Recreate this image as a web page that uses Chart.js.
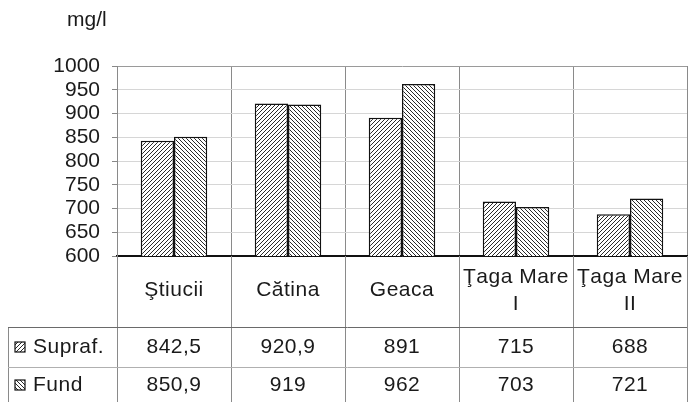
<!DOCTYPE html>
<html>
<head>
<meta charset="utf-8">
<script src="https://cdn.jsdelivr.net/npm/chart.js@4.4.1/dist/chart.umd.min.js"></script>
<style>
  html, body { margin: 0; padding: 0; background: #fff; }
  #wrap { width: 688px; height: 402px; }
</style>
</head>
<body>
<div id="wrap"><canvas id="c" width="688" height="402"></canvas></div>
<script>
// Sampling sites and dissolved-solids values (mg/l)
const categories = ['Ştiucii', 'Cătina', 'Geaca', ['Ţaga Mare', 'I'], ['Ţaga Mare', 'II']];
const suprafValues = [842.5, 920.9, 891, 715, 688];
const fundValues = [850.9, 919, 962, 703, 721];
const suprafLabels = ['842,5', '920,9', '891', '715', '688'];
const fundLabels = ['850,9', '919', '962', '703', '721'];
const seriesNames = ['Supraf.', 'Fund'];
const yUnit = 'mg/l';

const FONT = 'Liberation Sans, Arial, sans-serif';
const FSIZE = 21;
const TEXT = '#1a1a1a';

// Diagonal hatch fill; dir = 1 for "/" and -1 for "\"
function hatch(dir) {
  const s = 4;
  const c = document.createElement('canvas');
  c.width = s; c.height = s;
  const g = c.getContext('2d');
  g.fillStyle = '#fff';
  g.fillRect(0, 0, s, s);
  g.strokeStyle = '#2a2a2a';
  g.lineWidth = 1.0;
  g.beginPath();
  for (let k = -1; k <= 1; k++) {
    if (dir > 0) {
      g.moveTo(k * s - 1, s + 1); g.lineTo(k * s + s + 1, -1);
    } else {
      g.moveTo(k * s - 1, -1); g.lineTo(k * s + s + 1, s + 1);
    }
  }
  g.stroke();
  return g.createPattern(c, 'repeat');
}

const ctx0 = document.getElementById('c').getContext('2d');
const patSupraf = hatch(1);
const patFund = hatch(-1);

// Category cells and data table drawn under the plot
const tablePlugin = {
  id: 'dataTable',
  afterDraw(chart) {
    const ctx = chart.ctx;
    const area = chart.chartArea;
    const n = categories.length;
    const w = (area.right - area.left) / n;
    const xs = chart.scales.x;
    const rowTop = 327, row2 = 367, bottom = 402, tableLeft = 8;

    ctx.save();
    // unit label
    ctx.font = FSIZE + 'px ' + FONT;
    ctx.fillStyle = TEXT;
    ctx.textAlign = 'left';
    ctx.textBaseline = 'alphabetic';
    ctx.fillText(yUnit, 67, 26);

    // vertical separators below the plot
    ctx.strokeStyle = '#8a8a8a';
    ctx.lineWidth = 1;
    for (let i = 0; i <= n; i++) {
      const x = Math.round(area.left + i * w) + 0.5;
      ctx.beginPath();
      ctx.moveTo(x, area.bottom);
      ctx.lineTo(x, bottom);
      ctx.stroke();
    }
    ctx.beginPath();
    ctx.moveTo(tableLeft + 0.5, rowTop);
    ctx.lineTo(tableLeft + 0.5, bottom);
    ctx.stroke();

    // horizontal table lines
    ctx.strokeStyle = '#6a6a6a';
    ctx.beginPath();
    ctx.moveTo(tableLeft, rowTop + 0.5);
    ctx.lineTo(area.right, rowTop + 0.5);
    ctx.stroke();
    ctx.strokeStyle = '#b0b0b0';
    ctx.beginPath();
    ctx.moveTo(tableLeft, row2 + 0.5);
    ctx.lineTo(area.right, row2 + 0.5);
    ctx.stroke();

    // category names
    if ('letterSpacing' in ctx) ctx.letterSpacing = '0.5px';
    ctx.fillStyle = TEXT;
    ctx.textAlign = 'center';
    ctx.textBaseline = 'middle';
    const cellMid = (area.bottom + rowTop) / 2 - 1;
    categories.forEach((lab, i) => {
      const cx = xs.getPixelForValue(i);
      const lines = Array.isArray(lab) ? lab : [lab];
      const lh = 27;
      lines.forEach((t, j) => {
        ctx.fillText(t, cx, cellMid + (j - (lines.length - 1) / 2) * lh);
      });
    });

    // data rows
    const rows = [
      { name: seriesNames[0], vals: suprafLabels, pat: patSupraf, y: 347 },
      { name: seriesNames[1], vals: fundLabels, pat: patFund, y: 385 }
    ];
    rows.forEach(r => {
      // legend key
      ctx.fillStyle = r.pat;
      ctx.fillRect(15, r.y - 5, 10, 10);
      ctx.strokeStyle = '#111';
      ctx.lineWidth = 1.2;
      ctx.strokeRect(15, r.y - 5, 10, 10);
      ctx.fillStyle = TEXT;
      ctx.textAlign = 'left';
      ctx.fillText(r.name, 33, r.y);
      ctx.textAlign = 'center';
      r.vals.forEach((v, i) => {
        ctx.fillText(v, xs.getPixelForValue(i), r.y);
      });
    });
    ctx.restore();
  }
};

new Chart(ctx0, {
  type: 'bar',
  data: {
    labels: categories,
    datasets: [
      {
        label: seriesNames[0],
        data: suprafValues,
        backgroundColor: patSupraf,
        borderColor: '#111',
        borderWidth: 1.5,
        borderSkipped: false
      },
      {
        label: seriesNames[1],
        data: fundValues,
        backgroundColor: patFund,
        borderColor: '#111',
        borderWidth: 1.5,
        borderSkipped: false
      }
    ]
  },
  options: {
    responsive: false,
    animation: false,
    events: [],
    datasets: { bar: { categoryPercentage: 0.583, barPercentage: 1.0 } },
    layout: { padding: { top: 66, bottom: 146, left: 0, right: 1 } },
    plugins: {
      legend: { display: false },
      tooltip: { enabled: false },
      title: { display: false }
    },
    scales: {
      x: {
        offset: true,
        grid: {
          display: true,
          offset: true,
          color: '#8a8a8a',
          lineWidth: 1,
          drawTicks: false
        },
        border: { display: true, color: '#111', width: 1.5 },
        ticks: { display: false },
        afterFit(scale) { scale.height = 0; }
      },
      y: {
        min: 600,
        max: 1000,
        ticks: {
          stepSize: 50,
          autoSkip: false,
          color: TEXT,
          font: { family: FONT, size: FSIZE },
          padding: 12,
          callback: v => String(v)
        },
        grid: {
          color: ctx => ctx.tick && ctx.tick.value === 1000 ? '#9a9a9a' : (ctx.tick && ctx.tick.value === 600 ? '#111' : '#d6d6d6'),
          lineWidth: 1,
          tickLength: 5,
          tickColor: '#888'
        },
        border: { display: true, color: '#8a8a8a', width: 1 },
        afterFit(scale) { scale.width = 117; }
      }
    }
  },
  plugins: [tablePlugin]
});
</script>
</body>
</html>
